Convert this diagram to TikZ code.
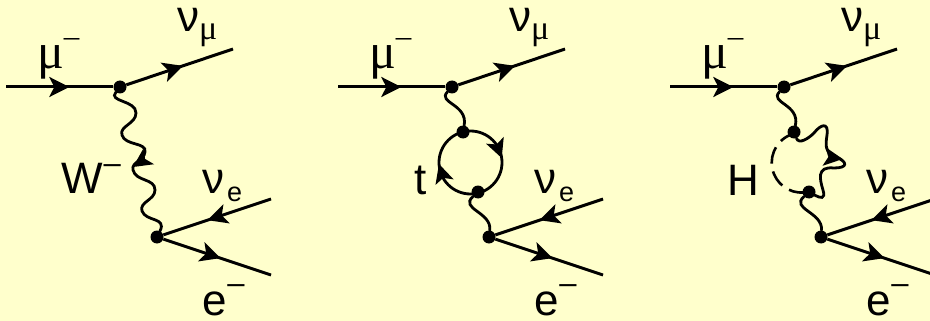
\documentclass[tikz,border=0pt]{standalone}
\usepackage{fontspec}
\setmainfont{Liberation Sans}
\newfontfamily\grk{Liberation Serif}
\usetikzlibrary{arrows.meta,decorations.markings}
\definecolor{bgc}{HTML}{FFFFCC}
\newcommand{\fa}{\fontsize{44}{44}\selectfont}
\newcommand{\fb}{\fontsize{27}{27}\selectfont}
\newcommand{\fg}{\fontsize{50}{50}\selectfont\grk}
\newcommand{\fn}{\fontsize{44}{44}\selectfont}
\newcommand{\fgs}{\fontsize{34}{34}\selectfont\grk}
\newcommand{\mns}[1]{\raisebox{#1pt}{\fontsize{31}{31}\selectfont –}}
\newcommand{\hdarrow}[3]{\fill[shift={(#1,#2)},rotate=#3] (0,0) -- (-19,-9.5) -- (-14.5,0) -- (-19,9.5) -- cycle;}
\tikzset{
  x=1pt,y=-1pt,
  fermion/.style={line width=3pt},
  boson/.style={line width=2.8pt,line cap=round},
  vtx/.style={circle,fill=black,inner sep=0pt,minimum size=13pt},
  lbl/.style={anchor=base west,inner sep=0pt,outer sep=0pt},
  tip/.style={postaction={decorate},decoration={markings,mark=at position #1 with {\arrow{Stealth[length=20pt,width=20pt,inset=5pt]}}}}
}
\newcommand{\commonparts}{%
  \coordinate (in) at (6,87);
  \coordinate (numu) at (233,49);
  \coordinate (nue) at (271,199);
  \coordinate (el) at (271,275);
  \node[vtx] (v1) at (120,87) {};
  \node[vtx] (v2) at (157,237) {};
  \draw[fermion,tip=.59] (in) -- (v1);
  \draw[fermion,tip=.53] (v1) -- (numu);
  \draw[fermion,tip=.59] (nue) -- (v2);
  \draw[fermion,tip=.53] (v2) -- (el);
  \node[lbl] (lmu) at (37,69) {\fg μ\hspace{0pt}\mns{22}};
  \node[lbl] (lnm) at (177,32) {\fn ν\hspace{0pt}\raisebox{-8pt}{\fgs μ}};
  \node[lbl] (lne) at (202,193) {\fn ν\hspace{3pt}\raisebox{-9pt}{\fb e}};
  \node[lbl] (lel) at (202,315) {\fa e\hspace{1pt}\mns{22}};
}
\begin{document}
\begin{tikzpicture}
\useasboundingbox (0,0) rectangle (930,321);
\clip (0,0) rectangle (930,321);
\fill[bgc] (0,0) rectangle (930,321);

% first diagram
\begin{scope}[name prefix=a-]
  \commonparts
  \draw[boson] (v1) .. controls (108,102) and (136,100) .. (136,113)
     .. controls (136,124) and (119,126) .. (122,135)
     .. controls (125,146) and (147,142) .. (145,152)
     .. controls (144,161) and (131,162) .. (133,170)
     .. controls (136,182) and (155,178) .. (155,190)
     .. controls (155,200) and (139,202) .. (142,211)
     .. controls (146,222) and (167,217) .. (v2);
  \hdarrow{133}{167}{-146}
  \node[lbl] (lw) at (61,193) {\fa W\hspace{1pt}\mns{20}};
\end{scope}

% second diagram
\begin{scope}[shift={(332,0)},name prefix=b-]
  \commonparts
  \node[vtx] (t1) at (131,132) {};
  \node[vtx] (t2) at (146,192) {};
  \draw[boson] (v1) .. controls (105,103) and (136,104) .. (t1);
  \draw[boson] (t2) .. controls (127,209) and (160,212) .. (v2);
  \draw[line width=2.8pt] (138.5,162.5) circle [radius=31.5];
  \hdarrow{169.7}{158}{-69}
  \hdarrow{107}{164}{107}
  \node[lbl] (lt) at (82,194) {\fa t};
\end{scope}

% third diagram
\begin{scope}[shift={(664,0)},name prefix=c-]
  \commonparts
  \node[vtx] (h1) at (130,132) {};
  \node[vtx] (h2) at (145,192) {};
  \draw[boson] (v1) .. controls (105,103) and (136,104) .. (h1);
  \draw[boson] (h2) .. controls (126,209) and (159,212) .. (v2);
  \draw[boson] (h1) .. controls (135,145) and (145,138) .. (150,133)
     .. controls (156,125) and (165,121) .. (163,135)
     .. controls (161,148) and (162,152) .. (172,157)
     .. controls (184,162) and (184,168) .. (170,168)
     .. controls (152,166) and (156,180) .. (159,190)
     .. controls (162,200) and (156,198) .. (h2);
  \hdarrow{178.7}{159}{-8}
  \draw[line width=2.6pt,dash pattern=on 17pt off 8pt,dash phase=6pt] (126,135) arc [start angle=-113,end angle=-284,radius=30];
  \node[lbl] (lh) at (63,195) {\fa H};
\end{scope}
\end{tikzpicture}
\end{document}
